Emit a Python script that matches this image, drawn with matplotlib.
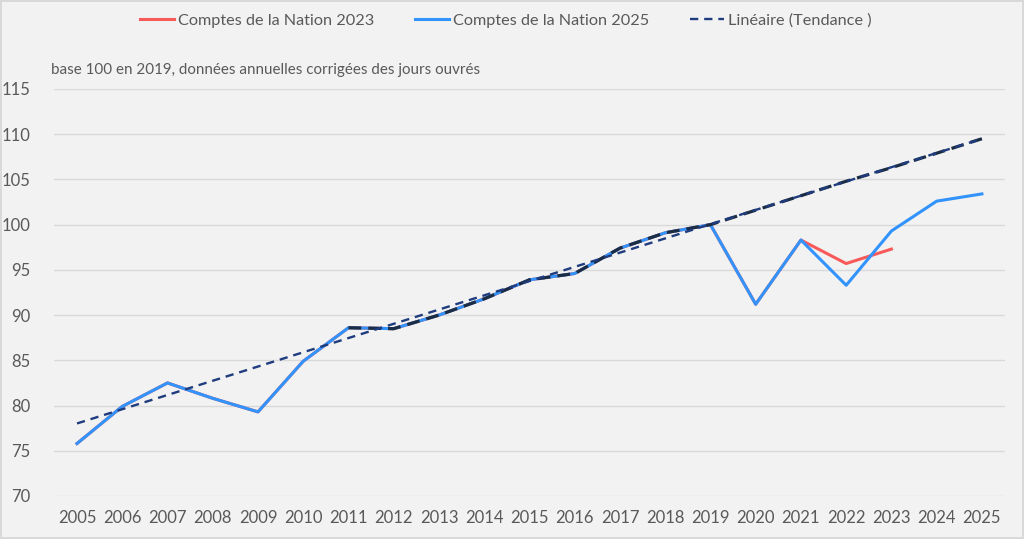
import numpy as np
import matplotlib.pyplot as plt

# index, base 100 en 2019
years = list(range(2005, 2026))
cn2025 = [75.8, 79.9, 82.5, 80.8, 79.3, 84.9, 88.6, 88.5, 90.0, 91.8, 93.9,
          94.6, 97.4, 99.1, 100.0, 91.2, 98.3, 93.3, 99.3, 102.6, 103.4]
years_2023 = list(range(2005, 2024))
cn2023 = [75.8, 79.9, 82.5, 80.8, 79.3, 84.9, 88.6, 88.5, 90.0, 91.8, 93.9,
          94.6, 97.4, 99.1, 100.0, 91.2, 98.3, 95.7, 97.3]
# "Tendance" series (no legend entry): actual 2011-2019, then straight line to 2025
years_tend = list(range(2011, 2026))
tendance = [88.6, 88.5, 90.0, 91.8, 93.9, 94.6, 97.4, 99.1, 100.0,
            101.6, 103.2, 104.8, 106.3, 107.9, 109.5]

TXT = '#595959'
plt.rcParams['font.family'] = ['Lato', 'DejaVu Sans']

fig = plt.figure(figsize=(10.24, 5.39), dpi=100)
fig.patch.set_facecolor('#f2f2f2')
fig.patch.set_edgecolor('#d9d9d9')
fig.patch.set_linewidth(1.5)
ax = fig.add_axes([0.0531, 0.0798, 0.9279, 0.7551])
ax.set_facecolor('#f2f2f2')

ax.plot(years_2023, cn2023, color='#f85a5a', lw=2.2, label='Comptes de la Nation 2023', zorder=3)
ax.plot(years, cn2025, color='#3193fb', lw=2.2, label='Comptes de la Nation 2025', zorder=4)
ax.plot(years_tend, tendance, color='#1b2c45', lw=2.3, ls=(0, (4, 2.2)), zorder=5)

# linear trend of the Tendance series, extended back to 2005
coef = np.polyfit(years_tend, tendance, 1)
xt = np.array([2005, 2025])
ax.plot(xt, np.polyval(coef, xt), color='#1f3c7e', lw=1.7, ls=(0, (3.5, 2.5)),
        label='Linéaire (Tendance )', zorder=6)

ax.set_xlim(2004.5, 2025.5)
ax.set_ylim(70, 115)
ax.set_xticks(years)
ax.set_yticks(range(70, 116, 5))
ax.grid(axis='y', color='#d9d9d9', lw=1)
ax.set_axisbelow(True)
for s in ax.spines.values():
    s.set_visible(False)
ax.tick_params(length=0, labelsize=12, colors=TXT)
ax.tick_params(axis='x', pad=10)
ax.tick_params(axis='y', pad=17)

fig.text(0.0498, 0.870, 'base 100 en 2019, données annuelles corrigées des jours ouvrés',
         fontsize=10.9, color=TXT, va='center', ha='left')

fig.legend(loc='center', bbox_to_anchor=(0.494, 0.962), ncol=3, frameon=False,
           fontsize=11.7, labelcolor=TXT, handlelength=2.1, handletextpad=0.25,
           columnspacing=2.5)

plt.savefig('out.png', dpi=100, facecolor=fig.get_facecolor(), edgecolor=fig.get_edgecolor())
